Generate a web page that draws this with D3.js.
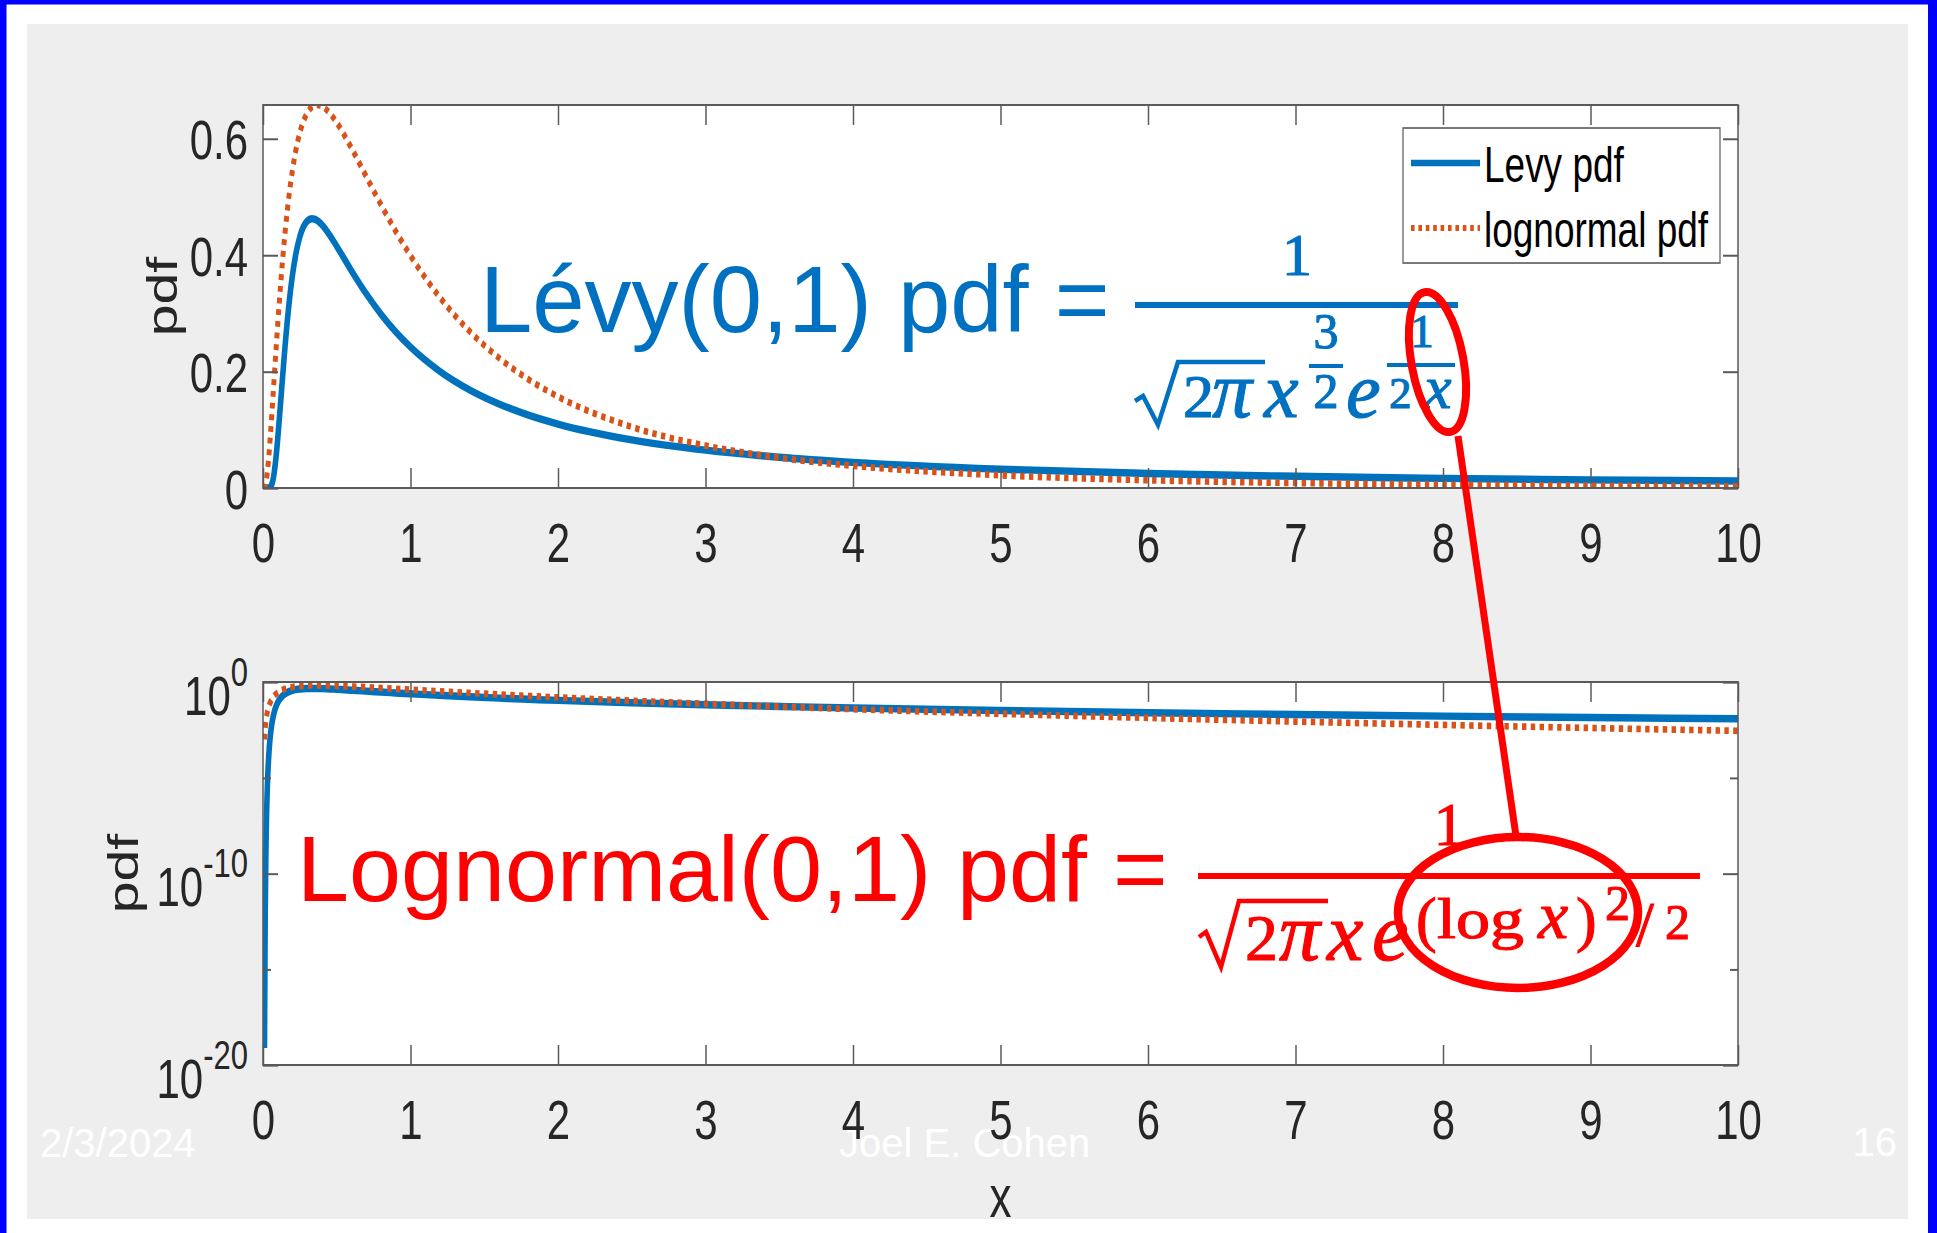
<!DOCTYPE html>
<html>
<head>
<meta charset="utf-8">
<script src="https://cdn.jsdelivr.net/npm/d3@7/dist/d3.min.js"></script>
<style>
  html, body { margin: 0; padding: 0; background: #fff; overflow: hidden; }
  svg { display: block; }
</style>
</head>
<body>
<svg id="slide" width="1937" height="1233"></svg>
<script>
// ---- data -------------------------------------------------------------
// x sample points shared by both densities
const xs = [0, 0.01, 0.015, 0.02, 0.03, 0.04, 0.05, 0.06, 0.07, 0.08, 0.09, 0.1,
  0.12, 0.15, 0.18, 0.2, 0.22, 0.25, 0.3, 0.33, 0.35, 0.37, 0.4, 0.45, 0.5,
  0.6, 0.7, 0.8, 0.9, 1, 1.2, 1.4, 1.6, 1.8, 2, 2.5, 3, 3.5, 4, 5, 6, 7, 8, 9, 10];

// Lévy(0,1) density at xs
const levyPdf = [0, 7.694e-20, 7.249e-13, 1.959e-9, 4.436e-6, 1.858e-4, 1.620e-3,
  6.525e-3, 0.017028, 0.034037, 0.057122, 0.085004, 0.14879, 0.24497, 0.32481,
  0.36612, 0.39834, 0.43193, 0.45858, 0.46251, 0.46173, 0.45893, 0.45181, 0.43505,
  0.41511, 0.37305, 0.33347, 0.29843, 0.26808, 0.24197, 0.20007, 0.16851, 0.14422,
  0.12513, 0.10985, 0.08263, 0.06499, 0.052816, 0.044008, 0.032287, 0.024975,
  0.020056, 0.016563, 0.013977, 0.012000];

// lognormal(0,1) density at xs
const lognormalPdf = [0, 9.902e-4, 3.934e-3, 9.477e-3, 0.028428, 0.056098, 0.089779,
  0.12705, 0.16604, 0.20539, 0.24412, 0.28159, 0.35118, 0.43984, 0.50946, 0.54627,
  0.57631, 0.61045, 0.64420, 0.65387, 0.65693, 0.65774, 0.65544, 0.64453, 0.62749,
  0.58357, 0.53479, 0.48642, 0.44082, 0.39894, 0.32697, 0.26928, 0.22327, 0.18647,
  0.15687, 0.10487, 0.072729, 0.052005, 0.038154, 0.021851, 0.013355, 0.0085817,
  0.0057393, 0.0039658, 0.0028159];

const seriesNames = ["Levy pdf", "lognormal pdf"];

const xDomain = [0, 10];
const xTicks = [0, 1, 2, 3, 4, 5, 6, 7, 8, 9, 10];
const xTickLabels = ["0", "1", "2", "3", "4", "5", "6", "7", "8", "9", "10"];

const linDomain = [0, 0.6577];
const linTicks = [0, 0.2, 0.4, 0.6];
const linTickLabels = ["0", "0.2", "0.4", "0.6"];

const logDomain = [1e-20, 1];
const logTicks = [1e-20, 1e-10, 1];
const logTickBases = ["10", "10", "10"];
const logTickExponents = ["-20", "-10", "0"];
const logMinorTicks = [1e-15, 1e-5];

const footerDate = "2/3/2024";
const footerAuthor = "Joel E. Cohen";
const footerPage = "16";

// ---- styling ----------------------------------------------------------
const SANS = "'Liberation Sans', Arial, Helvetica, sans-serif";
const SERIF = "'Liberation Serif', 'Times New Roman', serif";
const AXIS_COLOR = "#5a5a5a";
const LABEL_COLOR = "#262626";
const LEVY_COLOR = "#0072BD";
const LOGN_COLOR = "#D95319";
const NOTE_BLUE = "#0070C0";
const NOTE_RED = "#FF0000";

const PW = 1475;          // plot width on screen
const PH = 383;           // plot height on screen
const SY = 1.33;          // vertical stretch of the figure
const ph = PH / SY;       // plot height in the stretched group
const TICK = 15;
const MINOR_TICK = 8;

const svg = d3.select("#slide");

// ---- slide frame ------------------------------------------------------
svg.append("rect").attr("width", 1937).attr("height", 1233).attr("fill", "#fff");
svg.append("rect").attr("x", 0).attr("y", 0).attr("width", 6.5).attr("height", 1233).attr("fill", "#0000FF");
svg.append("rect").attr("x", 0).attr("y", 0).attr("width", 1937).attr("height", 4.5).attr("fill", "#0000FF");
svg.append("rect").attr("x", 1928).attr("y", 0).attr("width", 9).attr("height", 1233).attr("fill", "#0000FF");
svg.append("rect").attr("x", 27).attr("y", 24).attr("width", 1881).attr("height", 1195).attr("fill", "#EEEEEE");

// footer
const footer = svg.append("g").attr("font-family", SANS).attr("font-size", 40).attr("fill", "#fff");
footer.append("text").attr("x", 40).attr("y", 1157).text(footerDate);
footer.append("text").attr("x", 839).attr("y", 1157).text(footerAuthor);
footer.append("text").attr("x", 1897).attr("y", 1156).attr("text-anchor", "end").text(footerPage);

// ---- scales -----------------------------------------------------------
const x = d3.scaleLinear().domain(xDomain).range([0, PW]);
const yLin = d3.scaleLinear().domain(linDomain).range([ph, 0]);
const yLog = d3.scaleLog().domain(logDomain).range([ph, 0]);

function styleAxis(sel) {
  sel.select(".domain").remove();
  sel.attr("font-family", SANS).attr("font-size", 42);
  sel.selectAll(".tick line").attr("stroke", AXIS_COLOR).attr("stroke-width", 1.5);
  sel.selectAll(".tick text").attr("fill", LABEL_COLOR);
  return sel;
}

function makePanel(top, clipId) {
  const g = svg.append("g").attr("transform", `translate(263,${top}) scale(1,${SY})`);
  g.append("rect").attr("width", PW).attr("height", ph).attr("fill", "#fff");
  g.append("clipPath").attr("id", clipId)
    .append("rect").attr("width", PW).attr("height", ph);
  return g;
}

function xAxes(g) {
  const bottom = g.append("g").attr("transform", `translate(0,${ph})`)
    .call(d3.axisBottom(x).tickValues(xTicks).tickSize(-TICK).tickPadding(0)
      .tickFormat((d, i) => xTickLabels[i]));
  styleAxis(bottom);
  bottom.selectAll(".tick text").attr("y", 56).attr("dy", null);
  const topAx = g.append("g")
    .call(d3.axisTop(x).tickValues(xTicks).tickSize(-TICK).tickFormat(""));
  styleAxis(topAx);
}

function drawSeries(g, y, clipId, keep) {
  const line = d3.line()
    .x(d => x(d[0])).y(d => y(d[1]))
    .curve(d3.curveMonotoneX);
  const levy = xs.map((v, i) => [v, levyPdf[i]]).filter(keep);
  const logn = xs.map((v, i) => [v, lognormalPdf[i]]).filter(keep);
  const lines = g.append("g").attr("clip-path", `url(#${clipId})`).attr("fill", "none");
  lines.append("path").attr("d", line(levy))
    .attr("stroke", LEVY_COLOR).attr("stroke-width", 5.6).attr("stroke-linejoin", "round");
  lines.append("path").attr("d", line(logn))
    .attr("stroke", LOGN_COLOR).attr("stroke-width", 5)
    .attr("stroke-dasharray", "4.4,4.4");
}

function frame(g) {
  g.append("rect").attr("width", PW).attr("height", ph)
    .attr("fill", "none").attr("stroke", AXIS_COLOR).attr("stroke-width", 1.5);
}

function yLabel(g, dx) {
  g.append("text")
    .attr("transform", `translate(${dx},${ph / 2}) rotate(-90)`)
    .attr("text-anchor", "middle")
    .attr("font-family", SANS).attr("font-size", 43).attr("fill", LABEL_COLOR)
    .text("pdf");
}

// ---- upper panel: linear scale ----------------------------------------
const gTop = makePanel(105, "clipTop");
drawSeries(gTop, yLin, "clipTop", () => true);
xAxes(gTop);
const leftLin = gTop.append("g")
  .call(d3.axisLeft(yLin).tickValues(linTicks).tickSize(-TICK).tickPadding(15)
    .tickFormat((d, i) => linTickLabels[i]));
styleAxis(leftLin);
leftLin.selectAll(".tick text").attr("dy", "0.36em");
styleAxis(gTop.append("g").attr("transform", `translate(${PW},0)`)
  .call(d3.axisRight(yLin).tickValues(linTicks).tickSize(-TICK).tickFormat("")));
frame(gTop);
yLabel(gTop, -86);

// legend
const legend = gTop.append("g");
legend.append("rect").attr("x", 1140).attr("y", 17.3).attr("width", 317).attr("height", 101.5)
  .attr("fill", "#fff").attr("stroke", "#666").attr("stroke-width", 1.3);
legend.append("line").attr("x1", 1148).attr("x2", 1217).attr("y1", 43.6).attr("y2", 43.6)
  .attr("stroke", LEVY_COLOR).attr("stroke-width", 5);
legend.append("line").attr("x1", 1148).attr("x2", 1217).attr("y1", 92.5).attr("y2", 92.5)
  .attr("stroke", LOGN_COLOR).attr("stroke-width", 4.5).attr("stroke-dasharray", "3.6,3.8");
legend.selectAll("text.entry").data(seriesNames).join("text")
  .attr("class", "entry")
  .attr("x", 1221).attr("y", (d, i) => [58, 106.8][i])
  .attr("font-family", SANS).attr("font-size", 37).attr("fill", "#000")
  .text(d => d);

// ---- lower panel: log scale -------------------------------------------
const gBot = makePanel(682, "clipBot");
drawSeries(gBot, yLog, "clipBot", d => d[1] > 0);
xAxes(gBot);
const leftLog = gBot.append("g")
  .call(d3.axisLeft(yLog).tickValues(logTicks).tickSize(-TICK).tickPadding(15).tickFormat(""));
styleAxis(leftLog);
leftLog.selectAll(".tick text").each(function (d, i) {
  const t = d3.select(this).attr("dy", null).attr("y", 24);
  t.append("tspan").text(logTickBases[i]);
  t.append("tspan").attr("font-size", 31).attr("dy", -21.7).text(logTickExponents[i]);
});
styleAxis(gBot.append("g")
  .call(d3.axisLeft(yLog).tickValues(logMinorTicks).tickSize(-MINOR_TICK).tickFormat("")));
styleAxis(gBot.append("g").attr("transform", `translate(${PW},0)`)
  .call(d3.axisRight(yLog).tickValues(logTicks).tickSize(-TICK).tickFormat("")));
styleAxis(gBot.append("g").attr("transform", `translate(${PW},0)`)
  .call(d3.axisRight(yLog).tickValues(logMinorTicks).tickSize(-MINOR_TICK).tickFormat("")));
frame(gBot);
yLabel(gBot, -125);
gBot.append("text")
  .attr("x", PW / 2).attr("y", 402).attr("text-anchor", "middle")
  .attr("font-family", SANS).attr("font-size", 44).attr("fill", LABEL_COLOR)
  .text("x");

// ---- formula annotations ----------------------------------------------
function glyph(parent, str, gx, gy, size, opts = {}) {
  const t = parent.append("text")
    .attr("x", gx).attr("y", gy)
    .attr("font-family", opts.family || SERIF)
    .attr("font-size", size)
    .attr("text-anchor", opts.anchor || "start")
    .text(str);
  if (opts.italic) t.attr("font-style", "italic");
  if (opts.length) t.attr("textLength", opts.length).attr("lengthAdjust", "spacingAndGlyphs");
  if (!opts.family) t.attr("stroke", parent.attr("fill")).attr("stroke-width", 1.1);
  return t;
}

// Lévy density
const blue = svg.append("g").attr("fill", NOTE_BLUE);
glyph(blue, "Lévy(0,1) pdf =", 480, 332, 94, { family: SANS });
blue.append("rect").attr("x", 1135).attr("y", 302).attr("width", 323).attr("height", 6);
glyph(blue, "1", 1297, 275, 60, { anchor: "middle" });
blue.append("path").attr("d", "M1135,401 L1143,396 L1158,425 L1178,362 L1265,362")
  .attr("fill", "none").attr("stroke", NOTE_BLUE).attr("stroke-width", 4.5);
glyph(blue, "2", 1183, 417, 62);
glyph(blue, "π", 1212, 417, 80, { italic: true });
glyph(blue, "x", 1264, 417, 78, { italic: true });
glyph(blue, "3", 1326, 348, 50, { anchor: "middle" });
blue.append("rect").attr("x", 1309).attr("y", 364).attr("width", 34).attr("height", 4);
glyph(blue, "2", 1326, 408, 50, { anchor: "middle" });
glyph(blue, "e", 1346, 417, 78, { italic: true });
glyph(blue, "1", 1422, 347, 47, { anchor: "middle" });
blue.append("rect").attr("x", 1387).attr("y", 363).attr("width", 68).attr("height", 4);
glyph(blue, "2", 1389, 408, 45);
glyph(blue, "x", 1424, 408, 62, { italic: true });

// lognormal density
const red = svg.append("g").attr("fill", NOTE_RED);
glyph(red, "Lognormal(0,1) pdf =", 297, 901, 93.5, { family: SANS });
red.append("rect").attr("x", 1198).attr("y", 873).attr("width", 502).attr("height", 6);
glyph(red, "1", 1449, 845, 61, { anchor: "middle" });
red.append("path").attr("d", "M1199,937 L1206,932 L1221,967 L1239,901 L1328,901")
  .attr("fill", "none").attr("stroke", NOTE_RED).attr("stroke-width", 4.5);
glyph(red, "2", 1245, 960, 66);
glyph(red, "π", 1279, 960, 82, { italic: true });
glyph(red, "x", 1327, 960, 82, { italic: true });
glyph(red, "e", 1372, 960, 82, { italic: true });
glyph(red, "(", 1416, 940, 62);
glyph(red, "log", 1437, 938, 58, { length: 87 });
glyph(red, "x", 1538, 938, 68, { italic: true });
glyph(red, ")", 1576, 940, 62);
glyph(red, "2", 1605, 920, 50);
glyph(red, "/", 1636, 946, 64);
glyph(red, "2", 1665, 939, 50);

// highlight ellipses and connector
const marks = svg.append("g").attr("fill", "none").attr("stroke", NOTE_RED);
marks.append("ellipse").attr("rx", 26).attr("ry", 71)
  .attr("transform", "translate(1437.5,362) rotate(-10.4)")
  .attr("stroke-width", 8);
marks.append("ellipse").attr("cx", 1518).attr("cy", 912.5).attr("rx", 120).attr("ry", 75.5)
  .attr("stroke-width", 8.5);
marks.append("line").attr("x1", 1458).attr("y1", 436).attr("x2", 1516).attr("y2", 836)
  .attr("stroke-width", 7);
</script>
</body>
</html>
